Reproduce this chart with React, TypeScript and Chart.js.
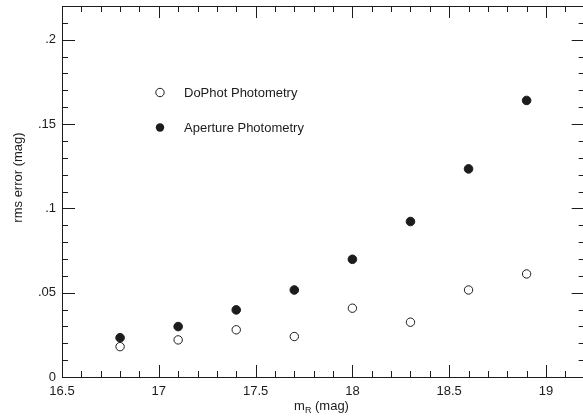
import { useEffect, useRef } from 'react';
import { Chart, registerables } from 'chart.js';

Chart.register(...registerables);

// Photometric error versus R magnitude for the two reduction methods
const magnitudes = [16.8, 17.1, 17.4, 17.7, 18.0, 18.3, 18.6, 18.9];
const dophotErrors = [0.018, 0.022, 0.028, 0.024, 0.0408, 0.0325, 0.0516, 0.0611];
const apertureErrors = [0.0233, 0.0299, 0.0398, 0.0516, 0.0698, 0.0922, 0.1234, 0.164];

const seriesNames = ['DoPhot Photometry', 'Aperture Photometry'];

const xRange = [16.5, 19.2];
const yRange = [0, 0.22];
const xTickValues = [16.5, 17, 17.5, 18, 18.5, 19];
const xTickLabels = ['16.5', '17', '17.5', '18', '18.5', '19'];
const yTickValues = [0, 0.05, 0.1, 0.15, 0.2];
const yTickLabels = ['0', '.05', '.1', '.15', '.2'];
const xMinorStep = 0.1;
const yMinorStep = 0.01;

const INK = '#1c1c1c';
const FONT = '"Liberation Sans", Arial, Helvetica, sans-serif';

const isMajor = (list: number[], v: number) => list.some((t) => Math.abs(t - v) < 1e-6);

// Boxed frame with inward ticks on all four sides, legend and axis titles
const decorPlugin = {
  id: 'decor',
  afterDraw(chart: any) {
    const { ctx, chartArea: a, scales } = chart;
    const xs = scales.x;
    const ys = scales.y;
    ctx.save();
    ctx.strokeStyle = INK;
    ctx.lineWidth = 1;
    ctx.strokeRect(a.left + 0.5, a.top + 0.5, a.right - a.left, a.bottom - a.top);

    ctx.beginPath();
    const nx = Math.round((xs.max - xs.min) / xMinorStep);
    for (let i = 0; i <= nx; i++) {
      const v = xs.min + i * xMinorStep;
      const len = isMajor(xTickValues, v) ? 12 : 6;
      const px = Math.round(xs.getPixelForValue(v)) + 0.5;
      ctx.moveTo(px, a.bottom);
      ctx.lineTo(px, a.bottom - len);
      ctx.moveTo(px, a.top);
      ctx.lineTo(px, a.top + len);
    }
    const ny = Math.round((ys.max - ys.min) / yMinorStep);
    for (let i = 0; i <= ny; i++) {
      const v = ys.min + i * yMinorStep;
      const len = isMajor(yTickValues, v) ? 13 : 6;
      const py = Math.round(ys.getPixelForValue(v)) + 0.5;
      ctx.moveTo(a.left, py);
      ctx.lineTo(a.left + len, py);
      ctx.moveTo(a.right, py);
      ctx.lineTo(a.right - len, py);
    }
    ctx.stroke();

    // legend
    ctx.font = `13px ${FONT}`;
    ctx.fillStyle = INK;
    ctx.textAlign = 'left';
    ctx.textBaseline = 'alphabetic';
    const lx = a.left + 98;
    const rows = [a.top + 86.5, a.top + 121.5];
    rows.forEach((ry, i) => {
      ctx.beginPath();
      ctx.arc(lx, ry, 4.2, 0, Math.PI * 2);
      if (i === 0) {
        ctx.fillStyle = '#fff';
        ctx.fill();
        ctx.lineWidth = 1;
        ctx.strokeStyle = INK;
        ctx.stroke();
      } else {
        ctx.fillStyle = INK;
        ctx.fill();
      }
      ctx.fillStyle = INK;
      ctx.fillText(seriesNames[i], lx + 24, ry + 4.7);
    });

    // y axis title
    ctx.save();
    ctx.translate(22, (a.top + a.bottom) / 2 - 14);
    ctx.rotate(-Math.PI / 2);
    ctx.textAlign = 'center';
    ctx.textBaseline = 'alphabetic';
    ctx.font = `13px ${FONT}`;
    ctx.fillText('rms error (mag)', 0, 0);
    ctx.restore();

    // x axis title with subscript
    const big = `13px ${FONT}`;
    const small = `9px ${FONT}`;
    ctx.font = big;
    const wm = ctx.measureText('m').width;
    const wrest = ctx.measureText(' (mag)').width;
    ctx.font = small;
    const wsub = ctx.measureText('R').width;
    const total = wm + wsub + wrest;
    const cx = (a.left + 583) / 2 - 1;
    const base = 410;
    let tx = cx - total / 2;
    ctx.textAlign = 'left';
    ctx.font = big;
    ctx.fillText('m', tx, base);
    tx += wm;
    ctx.font = small;
    ctx.fillText('R', tx, base + 3);
    tx += wsub;
    ctx.font = big;
    ctx.fillText(' (mag)', tx, base);
    ctx.restore();
  },
};

export default function App() {
  const canvasRef = useRef<HTMLCanvasElement | null>(null);

  useEffect(() => {
    const canvas = canvasRef.current;
    if (!canvas) return;
    const toPoints = (ys: number[]) => magnitudes.map((m, i) => ({ x: m, y: ys[i] }));
    const chart = new Chart(canvas, {
      type: 'scatter',
      data: {
        datasets: [
          {
            label: seriesNames[0],
            data: toPoints(dophotErrors),
            pointStyle: 'circle',
            pointRadius: 4.2,
            pointBackgroundColor: '#ffffff',
            pointBorderColor: INK,
            pointBorderWidth: 1,
          },
          {
            label: seriesNames[1],
            data: toPoints(apertureErrors),
            pointStyle: 'circle',
            pointRadius: 4.3,
            pointBackgroundColor: INK,
            pointBorderColor: INK,
            pointBorderWidth: 1,
          },
        ],
      },
      options: {
        responsive: false,
        animation: false,
        devicePixelRatio: 1,
        layout: { padding: { left: 0, right: 4, top: 6, bottom: 0 } },
        plugins: {
          legend: { display: false },
          tooltip: { enabled: false },
        },
        scales: {
          x: {
            type: 'linear',
            min: xRange[0],
            max: xRange[1],
            grid: { display: false, drawTicks: false },
            border: { display: false },
            afterBuildTicks: (scale: any) => {
              scale.ticks = xTickValues.map((v) => ({ value: v }));
            },
            afterFit: (scale: any) => {
              scale.height = 42;
              scale.paddingLeft = 0;
              scale.paddingRight = 0;
            },
            ticks: {
              autoSkip: false,
              maxRotation: 0,
              padding: 7,
              color: INK,
              font: { family: FONT, size: 13 },
              callback: (_v: any, i: number) => xTickLabels[i],
            },
          },
          y: {
            type: 'linear',
            min: yRange[0],
            max: yRange[1],
            grid: { display: false, drawTicks: false },
            border: { display: false },
            afterBuildTicks: (scale: any) => {
              scale.ticks = yTickValues.map((v) => ({ value: v }));
            },
            afterFit: (scale: any) => {
              scale.width = 62;
              scale.paddingTop = 0;
              scale.paddingBottom = 0;
            },
            ticks: {
              autoSkip: false,
              padding: 6,
              color: INK,
              font: { family: FONT, size: 13 },
              callback: (_v: any, i: number) => yTickLabels[i],
            },
          },
        },
      },
      plugins: [decorPlugin],
    });
    return () => chart.destroy();
  }, []);

  return (
    <div
      style={{
        position: 'fixed',
        left: 0,
        top: 0,
        width: 583,
        height: 419,
        overflow: 'hidden',
        background: '#fff',
      }}
    >
      <canvas ref={canvasRef} width={590} height={419} style={{ display: 'block', width: 590, height: 419 }} />
    </div>
  );
}
